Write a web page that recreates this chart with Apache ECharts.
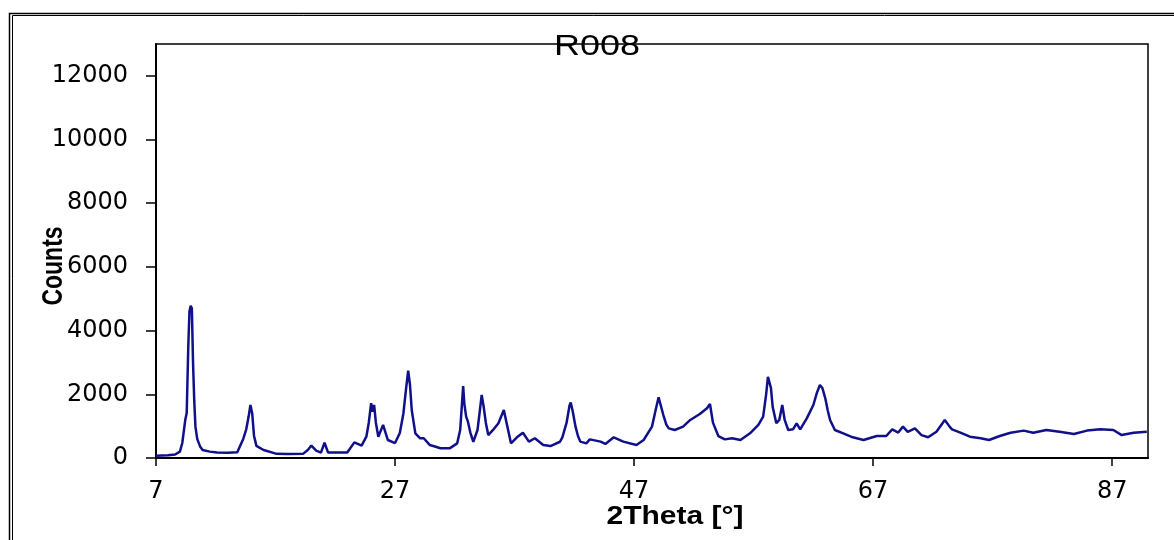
<!DOCTYPE html>
<html>
<head>
<meta charset="utf-8">
<title>R008</title>
<script src="https://cdn.jsdelivr.net/npm/echarts@6/dist/echarts.min.js"></script>
<style>
  html, body { margin: 0; padding: 0; background: #fff; }
  #chart { width: 1174px; height: 540px; }
</style>
</head>
<body>
<div id="chart"></div>
<script>
const titleText = 'R008'
const xName = '2Theta [°]'
const yName = 'Counts'

const xTicks = [7, 27, 47, 67, 87]
const yTicks = [0, 2000, 4000, 6000, 8000, 10000, 12000]

// 2theta positions
const twoTheta = [
  7.0, 8.0, 8.6, 9.0, 9.2, 9.45, 9.57, 9.7, 9.8, 9.9, 10.0, 10.1, 10.2, 10.3, 10.45, 10.7, 10.9,
  11.5, 12.1, 13.0, 13.8,
  14.3, 14.55, 14.75, 14.9, 15.05, 15.2, 15.4, 16.0, 17.1, 18.0, 19.3, 19.7, 20.0, 20.4, 20.8,
  21.1, 21.4, 22.1, 23.0, 23.6, 24.2, 24.6, 24.8, 25.0, 25.12, 25.25, 25.4, 25.6, 26.0, 26.4,
  27.0, 27.4, 27.7, 27.9, 28.1, 28.25, 28.4, 28.7, 29.1, 29.4, 29.9, 30.2, 30.8, 31.6,
  32.2, 32.45, 32.6, 32.7, 32.8, 32.95, 33.1, 33.3, 33.55, 33.9, 34.1, 34.25, 34.4, 34.6, 34.8,
  35.2, 35.65, 36.1, 36.4, 36.7, 37.2, 37.7, 38.2, 38.7, 39.4, 40.0, 40.8,
  41.0, 41.35, 41.6, 41.7, 41.85, 42.1, 42.3, 42.5, 43.0, 43.3, 44.2, 44.6, 45.3, 46.1, 47.2, 47.8,
  48.5, 48.8, 49.05, 49.15, 49.45, 49.7, 49.9, 50.4, 51.1, 51.7, 52.5, 53.1, 53.35, 53.6, 54.05,
  54.6, 55.2, 55.9, 56.7, 57.4, 57.8, 58.05, 58.2, 58.3, 58.45, 58.6, 58.9, 59.15, 59.4, 59.6,
  59.9, 60.3, 60.6, 60.9, 61.45, 62.0, 62.3, 62.55, 62.75, 63.0, 63.2, 63.4, 63.8, 64.5, 65.3,
  66.2, 67.3, 68.1, 68.6, 69.1, 69.5, 69.9, 70.5, 71.05, 71.6, 72.3, 73.0, 73.4, 73.6, 74.3,
  75.1, 76.0, 76.7, 77.6, 78.5, 79.6, 80.4, 81.5, 82.6, 83.8, 84.9, 86.0, 87.1, 87.8, 88.8, 89.9
]

const counts = [
  70, 85, 110, 200, 470, 1200, 1410, 3500, 4600, 4780, 4700, 2980, 1800, 985, 600, 350, 250,
  200, 170, 165, 180,
  600, 900, 1300, 1665, 1400, 700, 380, 250, 130, 125, 130, 250, 390, 230, 170,
  480, 170, 170, 175, 490, 390, 670, 1100, 1720, 1450, 1665, 1100, 670, 1040, 565,
  470, 785, 1400, 2100, 2745, 2300, 1500, 775, 620, 620, 410, 375, 305, 310,
  460, 880, 1700, 2260, 1700, 1300, 1140, 800, 510, 880, 1500, 1980, 1650, 1100, 720,
  880, 1090, 1510, 985, 460, 650, 795, 515, 620, 410, 375, 510,
  650, 1100, 1650, 1740, 1500, 985, 700, 515, 460, 585, 515, 440, 650, 515, 410, 565,
  985, 1500, 1905, 1850, 1350, 1050, 930, 880, 985, 1195, 1380, 1560, 1695, 1110, 690,
  585, 620, 565, 775, 1040, 1300, 2000, 2550, 2610, 2200, 1600, 1090, 1195, 1665, 1195,
  880, 900, 1090, 900, 1245, 1665, 2050, 2295, 2200, 1875, 1500, 1195, 880, 775, 650,
  565, 690, 690, 900, 800, 985, 820, 930, 720, 650, 825, 1190, 985, 900, 795,
  670, 620, 565, 690, 795, 860, 795, 880, 825, 755, 860, 900, 880, 720, 795, 825
]

const chart = echarts.init(document.getElementById('chart'))

chart.setOption({
  animation: false,
  backgroundColor: '#fff',
  grid: {
    left: 156,
    right: 26,
    top: 44,
    bottom: 82,
    show: true,
    borderColor: '#000',
    borderWidth: 1.5,
    containLabel: false,
    outerBoundsMode: 'none'
  },
  xAxis: {
    type: 'value',
    min: 7,
    max: 90,
    splitLine: { show: false },
    axisLine: { show: true, onZero: false, lineStyle: { color: '#000', width: 2 } },
    axisTick: { show: true, customValues: xTicks, length: 8, lineStyle: { color: '#000', width: 1.5 } },
    axisLabel: {
      customValues: xTicks,
      margin: 22,
      color: '#000',
      fontSize: 24,
      fontFamily: 'DejaVu Sans'
    }
  },
  yAxis: {
    type: 'value',
    min: 0,
    max: 13000,
    splitLine: { show: false },
    axisLine: { show: true, lineStyle: { color: '#000', width: 2 } },
    axisTick: { show: true, customValues: yTicks, length: 10, lineStyle: { color: '#000', width: 1.5 } },
    axisLabel: {
      customValues: yTicks,
      formatter: v => String(v),
      margin: 28,
      color: '#000',
      fontSize: 24,
      fontFamily: 'DejaVu Sans'
    }
  },
  graphic: [
    // outer double frame
    { type: 'rect', shape: { x: 9.5, y: 13.5, width: 2000, height: 2000 },
      style: { fill: 'none', stroke: '#000', lineWidth: 1.5 }, silent: true },
    { type: 'rect', shape: { x: 12.5, y: 15.5, width: 2000, height: 2000 },
      style: { fill: 'none', stroke: '#000', lineWidth: 1 }, silent: true },
    { type: 'text', x: 597, y: 47, scaleX: 1.2, z: 100,
      style: { text: titleText, fill: '#000', font: '30px "Liberation Sans"', align: 'center', verticalAlign: 'middle' } },
    { type: 'text', x: 675, y: 517, scaleX: 1.2,
      style: { text: xName, fill: '#000', font: 'bold 25px "Liberation Sans"', align: 'center', verticalAlign: 'middle' } },
    { type: 'text', x: 54, y: 266, rotation: Math.PI / 2, scaleY: 1.3,
      style: { text: yName, fill: '#000', font: 'bold 23px "Liberation Sans"', align: 'center', verticalAlign: 'middle' } }
  ],
  series: [
    {
      type: 'line',
      showSymbol: false,
      data: twoTheta.map((t, i) => [t, counts[i]]),
      lineStyle: { color: '#10108a', width: 2.5 },
      itemStyle: { color: '#10108a' }
    }
  ]
})
</script>
</body>
</html>
